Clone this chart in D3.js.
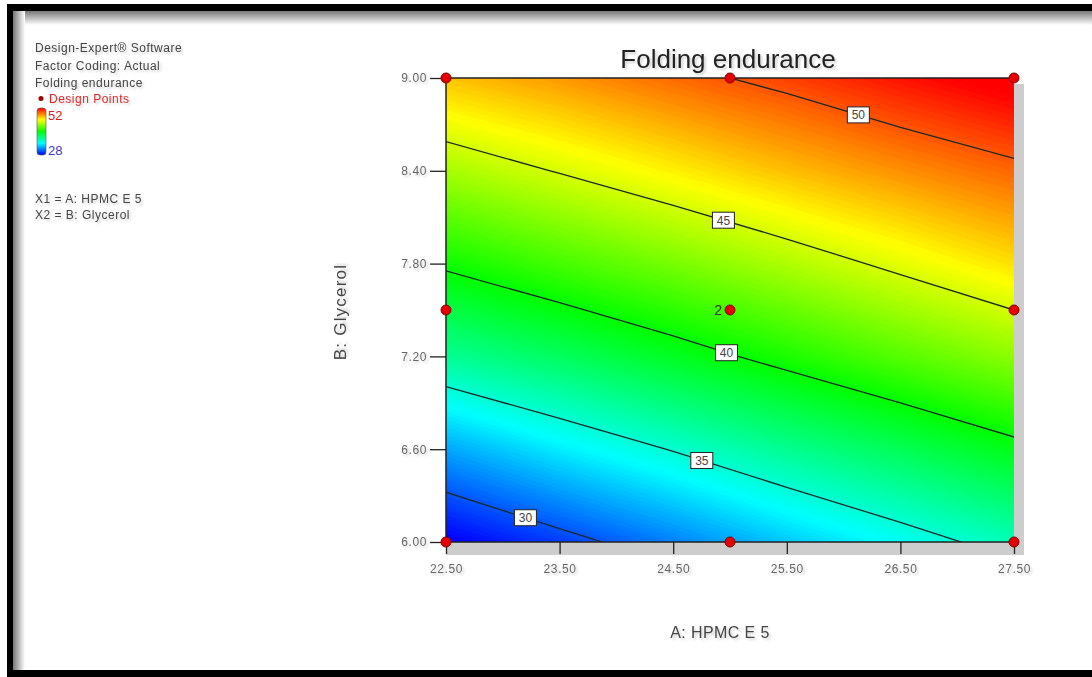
<!DOCTYPE html>
<html lang="en">
<head>
<meta charset="utf-8">
<script src="https://d3js.org/d3.v7.min.js"></script>
<style>
  body { margin: 0; background: #fff; }
  text { font-family: "Liberation Sans", Arial, sans-serif; }
</style>
</head>
<body>
<script>
// factor levels shown on the axes
var hpmcTicks = [22.5, 23.5, 24.5, 25.5, 26.5, 27.5];
var glyTicks = [6.0, 6.6, 7.2, 7.8, 8.4, 9.0];

// folding endurance at each tick crossing (rows = glycerol 6.00 .. 9.00)
var row600 = [27.8, 29.4, 31.0, 32.7, 34.2, 35.7];
var row660 = [31.9, 33.6, 35.1, 36.6, 38.0, 39.5];
var row720 = [36.5, 37.8, 39.2, 40.6, 42.0, 43.3];
var row780 = [40.3, 41.6, 42.8, 44.1, 45.4, 46.7];
var row840 = [43.9, 45.1, 46.3, 47.5, 48.6, 49.6];
var row900 = [47.4, 48.4, 49.5, 50.5, 51.6, 52.6];

// contour levels and where along A their labels sit
var levels = [30, 35, 40, 45, 50];
var labelAt = [23.2, 24.75, 24.97, 24.94, 26.13];

// design points
var designA = [22.5, 25, 27.5, 22.5, 25, 27.5, 22.5, 25, 27.5];
var designB = [9, 9, 9, 7.5, 7.5, 7.5, 6, 6, 6];
var runs = [1, 1, 1, 1, 2, 1, 1, 1, 1];

var W = 1092, H = 677;
var svg = d3.select("body").append("svg").attr("width", W).attr("height", H);
var defs = svg.append("defs");

// soft grey halo under text, like the original screenshot
var f = defs.append("filter").attr("id", "halo").attr("x", "-10%").attr("y", "-30%").attr("width", "130%").attr("height", "170%");
f.append("feGaussianBlur").attr("in", "SourceAlpha").attr("stdDeviation", 1).attr("result", "b");
f.append("feOffset").attr("in", "b").attr("dx", 1.5).attr("dy", 2).attr("result", "o");
f.append("feComponentTransfer").attr("in", "o").attr("result", "s")
  .append("feFuncA").attr("type", "linear").attr("slope", 0.18);
var fm = f.append("feMerge");
fm.append("feMergeNode").attr("in", "s");
fm.append("feMergeNode").attr("in", "SourceGraphic");

// outer frame
var gTop = defs.append("linearGradient").attr("id", "fadeTop").attr("x1", 0).attr("y1", 0).attr("x2", 0).attr("y2", 1);
gTop.append("stop").attr("offset", 0).attr("stop-color", "#777");
gTop.append("stop").attr("offset", 1).attr("stop-color", "#fff");
var gLeft = defs.append("linearGradient").attr("id", "fadeLeft").attr("x1", 0).attr("y1", 0).attr("x2", 1).attr("y2", 0);
gLeft.append("stop").attr("offset", 0).attr("stop-color", "#777");
gLeft.append("stop").attr("offset", 1).attr("stop-color", "#fff");
svg.append("rect").attr("x", 13).attr("y", 11).attr("width", W).attr("height", 14).attr("fill", "url(#fadeTop)");
svg.append("rect").attr("x", 13).attr("y", 11).attr("width", 12).attr("height", 659).attr("fill", "url(#fadeLeft)");
svg.append("rect").attr("x", 7).attr("y", 4).attr("width", W).attr("height", 7).attr("fill", "#000");
svg.append("rect").attr("x", 7).attr("y", 4).attr("width", 6).attr("height", H).attr("fill", "#000");
svg.append("rect").attr("x", 7).attr("y", 670).attr("width", W).attr("height", 7).attr("fill", "#000");

var x = d3.scaleLinear().domain([22.5, 27.5]).range([446, 1014]);
var y = d3.scaleLinear().domain([6, 9]).range([542, 78]);
var x0 = x(22.5), x1 = x(27.5), y0 = y(9), y1 = y(6);

var color = d3.scaleLinear()
  .domain([28, 34, 40, 46, 52])
  .range(["#0000ff", "#00ffff", "#00ff00", "#ffff00", "#ff0000"])
  .clamp(true);

// shadow behind the plot
svg.append("rect").attr("x", x0).attr("y", y0 + 6).attr("width", x1 - x0 + 10).attr("height", y1 - y0 + 7)
  .attr("fill", "#cdcdcd");

// grid padded by one repeated cell each side so edges interpolate properly
var rows = [row600, row660, row720, row780, row840, row900];
var n = 8, values = [];
for (var j = 0; j < n; j++) {
  var r = rows[Math.max(0, Math.min(5, j - 1))];
  for (var i = 0; i < n; i++) values.push(r[Math.max(0, Math.min(5, i - 1))]);
}
var proj = d3.geoTransform({
  point: function(cx, cy) {
    this.stream.point(x(22.5 + (cx - 1.5) * 1.0), y(6 + (cy - 1.5) * 0.6));
  }
});
var path = d3.geoPath(proj);

defs.append("clipPath").attr("id", "plotClip").append("rect")
  .attr("x", x0).attr("y", y0).attr("width", x1 - x0).attr("height", y1 - y0);

var plot = svg.append("g").attr("clip-path", "url(#plotClip)");
var bands = d3.contours().size([n, n]).thresholds(d3.range(26, 54, 0.2))(values);
plot.append("rect").attr("x", x0).attr("y", y0).attr("width", x1 - x0).attr("height", y1 - y0)
  .attr("fill", color(26));
plot.selectAll("path.band").data(bands).enter().append("path")
  .attr("class", "band")
  .attr("d", path)
  .attr("fill", function(d) { return color(d.value + 0.1); })
  .attr("stroke", function(d) { return color(d.value + 0.1); })
  .attr("stroke-width", 0.6);

var lines = d3.contours().size([n, n]).thresholds(levels)(values);
var linePaths = plot.selectAll("path.level").data(lines).enter().append("path")
  .attr("class", "level")
  .attr("d", path)
  .attr("fill", "none")
  .attr("stroke", "#1a2a2a")
  .attr("stroke-width", 1.3);

// plot border (top, left, bottom)
svg.append("path")
  .attr("d", "M" + x1 + "," + y0 + "H" + x0 + "V" + y1 + "H" + x1)
  .attr("fill", "none").attr("stroke", "#222").attr("stroke-width", 1.5);

// axes
var yAxis = svg.append("g").attr("transform", "translate(" + x0 + ",0)")
  .call(d3.axisLeft(y).tickValues(glyTicks).tickFormat(d3.format(".2f")).tickSize(16).tickPadding(3).tickSizeOuter(0));
var xAxis = svg.append("g").attr("transform", "translate(0," + y1 + ")")
  .call(d3.axisBottom(x).tickValues(hpmcTicks).tickFormat(d3.format(".2f")).tickSize(12).tickPadding(10).tickSizeOuter(0));
[xAxis, yAxis].forEach(function(a) {
  a.select(".domain").remove();
  a.selectAll(".tick line").attr("stroke", "#222").attr("stroke-width", 1.3);
  a.selectAll(".tick text").attr("fill", "#666").style("font-size", "12px")
    .style("letter-spacing", "0.6px").attr("filter", "url(#halo)")
    .style("font-family", "'Liberation Sans', Arial, sans-serif");
});

// contour labels
linePaths.each(function(d, k) {
  var node = this, L = node.getTotalLength();
  var tx = x(labelAt[k]), best = null, bd = Infinity;
  for (var s = 0; s <= L; s += 0.5) {
    var p = node.getPointAtLength(s);
    if (p.x < x0 || p.x > x1 || p.y < y0 || p.y > y1) continue;
    var dd = Math.abs(p.x - tx);
    if (dd < bd) { bd = dd; best = p; }
  }
  if (!best) return;
  var lg = svg.append("g").attr("transform", "translate(" + best.x + "," + best.y + ")");
  lg.append("rect").attr("x", -11).attr("y", -8).attr("width", 22).attr("height", 16)
    .attr("fill", "#fff").attr("stroke", "#222").attr("stroke-width", 1);
  lg.append("text").attr("text-anchor", "middle").attr("dy", "0.36em")
    .style("font-size", "12px").attr("fill", "#444").text(levels[k]);
});

// design points
var pts = designA.map(function(a, k) { return { a: a, b: designB[k], n: runs[k] }; });
svg.selectAll("circle.dp").data(pts).enter().append("circle")
  .attr("class", "dp")
  .attr("cx", function(d) { return x(d.a); })
  .attr("cy", function(d) { return y(d.b); })
  .attr("r", 5)
  .attr("fill", "#e40000").attr("stroke", "#8a0000").attr("stroke-width", 1);
svg.selectAll("text.rep").data(pts.filter(function(d) { return d.n > 1; })).enter().append("text")
  .attr("class", "rep")
  .attr("x", function(d) { return x(d.a) - 8; })
  .attr("y", function(d) { return y(d.b); })
  .attr("dy", "0.35em").attr("text-anchor", "end")
  .style("font-size", "14px").attr("fill", "#2a3a2a")
  .text(function(d) { return d.n; });

// titles
svg.append("text").attr("x", 728).attr("y", 68).attr("text-anchor", "middle")
  .style("font-size", "26px").attr("fill", "#222").attr("filter", "url(#halo)").text("Folding endurance");
svg.append("text").attr("x", 720).attr("y", 638).attr("text-anchor", "middle")
  .style("font-size", "16px").style("letter-spacing", "0.4px").attr("fill", "#444")
  .attr("filter", "url(#halo)").text("A: HPMC E 5");
svg.append("text").attr("transform", "translate(346,312) rotate(-90)").attr("text-anchor", "middle")
  .style("font-size", "17px").style("letter-spacing", "1.2px").attr("fill", "#444")
  .attr("filter", "url(#halo)").text("B: Glycerol");

// side legend
var info = ["Design-Expert\u00ae Software", "Factor Coding: Actual", "Folding endurance"];
svg.selectAll("text.info").data(info).enter().append("text")
  .attr("class", "info").attr("x", 35).attr("y", function(d, k) { return 52 + k * 17.5; })
  .style("font-size", "12px").style("letter-spacing", "0.5px").attr("fill", "#444")
  .attr("filter", "url(#halo)").text(function(d) { return d; });
svg.append("circle").attr("cx", 41).attr("cy", 98.5).attr("r", 2.5).attr("fill", "#a00000");
svg.append("text").attr("x", 49).attr("y", 103).style("font-size", "12px").style("letter-spacing", "0.5px")
  .attr("fill", "#e02828").attr("filter", "url(#halo)").text("Design Points");

var cb = defs.append("linearGradient").attr("id", "cbar").attr("x1", 0).attr("y1", 0).attr("x2", 0).attr("y2", 1);
d3.range(0, 1.001, 0.125).forEach(function(t) {
  cb.append("stop").attr("offset", t).attr("stop-color", color(52 - t * 24));
});
svg.append("rect").attr("x", 37).attr("y", 108).attr("width", 9).attr("height", 47).attr("rx", 3)
  .attr("fill", "url(#cbar)").attr("stroke", "#555").attr("stroke-width", 0.6);
svg.append("text").attr("x", 48).attr("y", 120).style("font-size", "13px").attr("fill", "#d02020").text("52");
svg.append("text").attr("x", 48).attr("y", 155).style("font-size", "13px").attr("fill", "#3838d0").text("28");

var factors = ["X1 = A: HPMC E 5", "X2 = B: Glycerol"];
svg.selectAll("text.fac").data(factors).enter().append("text")
  .attr("class", "fac").attr("x", 35).attr("y", function(d, k) { return 203 + k * 16; })
  .style("font-size", "12px").style("letter-spacing", "0.5px").attr("fill", "#444")
  .attr("filter", "url(#halo)").text(function(d) { return d; });
</script>
</body>
</html>
